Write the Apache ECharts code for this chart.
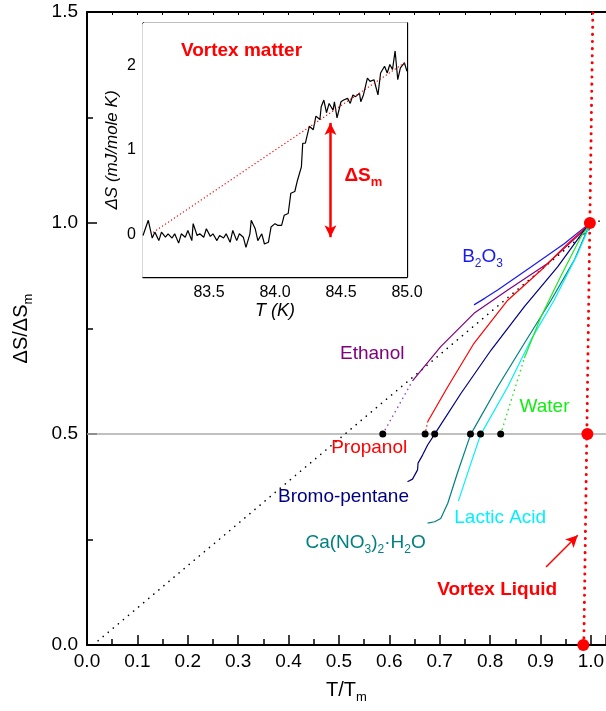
<!DOCTYPE html>
<html><head><meta charset="utf-8">
<script src="https://cdn.jsdelivr.net/npm/echarts@6/dist/echarts.min.js"></script>
<style>html,body{margin:0;padding:0;background:#fff}#c{width:606px;height:711px}</style>
</head><body><div id="c"></div>
<script>
const FONT = 'Liberation Sans';

// ---------- main panel data (T/Tm, dS/dSm) ----------
const xTickValues = [0, 0.1, 0.2, 0.3, 0.4, 0.5, 0.6, 0.7, 0.8, 0.9, 1.0];
const yTickValues = [0, 0.5, 1.0, 1.5];
const halfLine = [[0, 0.5], [1.03, 0.5]];
const diagonal = [[0.012, 0], [1.025, 1.013]];
const vortexLine = [[0.986, 0], [1.004, 1.5]];
const vortexPoints = [[0.985, 0.0], [0.993, 0.5], [0.998, 1.0]];
const halfPoints = [[0.587, 0.5], [0.671, 0.5], [0.690, 0.5], [0.761, 0.5], [0.781, 0.5], [0.821, 0.5]];

const b2o3 = [[0.768,0.806],[0.790,0.822],[0.815,0.841],[0.881,0.896],[0.947,0.951],[0.993,0.995],[1.0,1.0]];
const ethanol = [[0.646,0.626],[0.702,0.707],[0.768,0.786],[0.835,0.841],[0.914,0.904],[0.980,0.976],[1.0,1.0]];
const ethanolExt = [[0.587,0.5],[0.646,0.626]];
const propanol = [[0.676,0.529],[0.716,0.612],[0.768,0.715],[0.835,0.817],[0.901,0.888],[0.954,0.951],[1.0,1.0]];
const propanolExt = [[0.671,0.5],[0.676,0.529]];
const bromo = [[0.636,0.387],[0.646,0.393],[0.656,0.415],[0.657,0.431],[0.666,0.450],[0.676,0.474],[0.689,0.498],[0.742,0.596],[0.802,0.699],[0.868,0.802],[0.934,0.896],[0.987,0.983],[1.0,1.0]];
const canitrate = [[0.676,0.289],[0.690,0.292],[0.702,0.300],[0.716,0.336],[0.735,0.407],[0.761,0.498],[0.815,0.612],[0.868,0.715],[0.921,0.817],[0.967,0.912],[0.990,0.976],[1.0,1.0]];
const lactic = [[0.737,0.341],[0.762,0.431],[0.781,0.498],[0.835,0.612],[0.881,0.723],[0.927,0.817],[0.974,0.928],[1.0,1.0]];
const water = [[0.868,0.680],[0.901,0.778],[0.940,0.873],[0.980,0.967],[1.0,1.0]];
const waterExt = [[0.821,0.5],[0.868,0.680]];
const arrowMain = [[0.911,0.185],[0.974,0.26]];

// annotation texts (anchored at data coordinates)
const labelTexts = ['B{s|2}O{s|3}','Ethanol','Water','Propanol','Bromo-pentane','Lactic Acid','Ca(NO{s|3}){s|2}·H{s|2}O'];
const labelAt = [[0.786,0.919],[0.567,0.690],[0.909,0.564],[0.561,0.467],[0.510,0.351],[0.821,0.301],[0.554,0.242]];
const labelColors = ['#1a1aee','#800080','#11ee11','#ff0000','#000080','#00f0ff','#008080'];

// ---------- inset data (T in K, dS in mJ/mole K) ----------
const insetT = [83.00,83.04,83.07,83.09,83.12,83.14,83.17,83.19,83.22,83.24,83.27,83.29,83.32,83.34,83.37,83.38,83.41,83.43,83.46,83.48,83.51,83.53,83.56,83.58,83.61,83.63,83.66,83.68,83.71,83.73,83.76,83.78,83.81,83.82,83.85,83.87,83.90,83.92,83.95,83.97,84.00,84.02,84.05,84.07,84.10,84.12,84.15,84.17,84.20,84.21,84.23,84.26,84.29,84.31,84.34,84.35,84.37,84.39,84.41,84.44,84.45,84.47,84.50,84.52,84.55,84.57,84.59,84.61,84.64,84.65,84.67,84.70,84.72,84.75,84.78,84.80,84.83,84.85,84.87,84.89,84.91,84.93,84.95,84.98,85.00];
const insetS = [-0.01,0.17,-0.04,0.03,-0.07,0.03,-0.03,0.01,-0.04,0.01,-0.10,0.01,-0.03,0.05,-0.07,0.13,-0.01,0.01,-0.03,0.07,-0.02,0.01,-0.07,-0.01,-0.04,0.01,-0.09,0.05,-0.07,0.01,-0.03,-0.15,0.01,0.17,0.07,-0.07,0.01,-0.11,-0.09,0.09,0.13,0.11,0.11,0.23,0.25,0.49,0.51,0.64,0.80,1.08,1.08,1.28,1.24,1.40,1.36,1.51,1.59,1.44,1.55,1.47,1.57,1.38,1.57,1.59,1.61,1.55,1.65,1.63,1.67,1.57,1.65,1.85,1.81,1.83,1.65,1.91,1.99,1.91,2.01,1.95,2.17,1.83,1.97,2.03,1.93];
const insetBaseline = [[83.08,0.03],[85.0,2.05]];
const insetArrow = [[84.42,1.32],[84.42,-0.03]];
const insetTexts = ['Vortex matter','ΔS{s|m}'];
const insetTextAt = [[83.75,2.17],[84.53,0.684]];

// ---------- build option ----------
const subRich = (size, pad, extra) => ({ s: Object.assign({ fontSize: size, padding: [pad,0,0,0], fontFamily: FONT }, extra || {}) });
const isMult = (v, step) => Math.abs(v / step - Math.round(v / step)) < 1e-6;

function lineSeries(data, color, width, dash, xi, yi) {
  return { type: 'line', data, xAxisIndex: xi || 0, yAxisIndex: yi || 0, symbol: 'none', showSymbol: false,
    silent: true, clip: false,
    lineStyle: { color, width, type: dash || 'solid', cap: dash ? 'round' : 'butt', opacity: 1 } };
}
const hidden = { color: 'rgba(0,0,0,0)', opacity: 1 };

const series = [];
series.push(lineSeries(halfLine, '#ababab', 1.5));
series.push(lineSeries(diagonal, '#000', 1.6, [0.1, 6.5]));
series.push(lineSeries(vortexLine, '#ff0000', 3, [0.1, 7]));
series.push(lineSeries(b2o3, '#1a1aee', 1.2));
series.push(lineSeries(ethanol, '#800080', 1.2));
series.push(lineSeries(ethanolExt, '#a040c0', 1.6, [0.1, 5]));
series.push(lineSeries(propanol, '#ff0000', 1.2));
series.push(lineSeries(propanolExt, '#ff4040', 1.6, [0.1, 4]));
series.push(lineSeries(bromo, '#000080', 1.2));
series.push(lineSeries(canitrate, '#008080', 1.2));
series.push(lineSeries(lactic, '#00f0ff', 1.2));
series.push(lineSeries(water, '#22e622', 1.2));
series.push(lineSeries(waterExt, '#22e622', 1.6, [0.1, 5]));
series.push({ type: 'scatter', data: halfPoints, symbolSize: 7, itemStyle: { color: '#000', opacity: 1 }, clip: false, silent: true, z: 5 });
series.push({ type: 'scatter', data: vortexPoints, symbolSize: 12, itemStyle: { color: '#ff0000', opacity: 1 }, clip: false, silent: true, z: 6 });
series.push({ type: 'line', data: [], symbol: 'none', silent: true,
  markLine: { silent: true, z: 20, symbol: ['none', 'arrow'], symbolSize: [9, 12], label: { show: false },
    lineStyle: { color: '#ff0000', width: 1.5, type: 'solid' },
    data: [[{ coord: arrowMain[0] }, { coord: arrowMain[1] }]] } });
series.push({ type: 'scatter', symbolSize: 1, itemStyle: hidden, silent: true, clip: false, z: 7,
  data: labelAt.map((p, i) => ({ value: p, label: { show: true, opacity: 1, position: [0, 0], align: 'center', verticalAlign: 'middle',
    formatter: labelTexts[i], color: labelColors[i], fontSize: 19, fontFamily: FONT,
    rich: { s: { fontSize: 12, padding: [15, 0, 0, 0], color: labelColors[i], fontFamily: FONT } } } })) });
series.push({ type: 'scatter', symbolSize: 1, itemStyle: hidden, silent: true, clip: false, z: 7,
  data: [{ value: [0.815, 0.130], label: { show: true, opacity: 1, position: [0, 0], align: 'center', verticalAlign: 'middle',
    formatter: 'Vortex Liquid', color: '#ff0000', fontSize: 19, fontWeight: 'bold', fontFamily: FONT } }] });

// inset series
series.push(Object.assign(lineSeries(insetT.map((t, i) => [t, insetS[i]]), '#000', 1.2, null, 2, 1), { z: 10 }));
series.push(Object.assign(lineSeries(insetBaseline, '#ff0000', 1.3, [0.1, 3.5], 2, 1), { z: 11 }));
series.push({ type: 'line', data: [], xAxisIndex: 2, yAxisIndex: 1, symbol: 'none', silent: true, z: 12,
  markLine: { silent: true, z: 20, symbol: ['arrow', 'arrow'], symbolSize: [9, 12], label: { show: false },
    lineStyle: { color: '#ff0000', width: 2.5, type: 'solid' },
    data: [[{ coord: insetArrow[0] }, { coord: insetArrow[1] }]] } });
series.push({ type: 'scatter', xAxisIndex: 2, yAxisIndex: 1, symbolSize: 1, itemStyle: hidden, silent: true, clip: false, z: 12,
  data: insetTextAt.map((p, i) => ({ value: p, label: { show: true, opacity: 1, position: [0, 0], align: i === 0 ? 'center' : 'left', verticalAlign: 'middle',
    formatter: insetTexts[i], color: '#ff0000', fontSize: 19, fontWeight: 'bold', fontFamily: FONT,
    rich: { s: { fontSize: 13, fontWeight: 'bold', padding: [12, 0, 0, 0], color: '#ff0000', fontFamily: FONT } } } })) });

const black = '#000';
const option = {
  animation: false,
  backgroundColor: '#fff',
  textStyle: { fontFamily: FONT },
  grid: [
    { left: 87, top: 12, width: 519, height: 633, containLabel: false, outerBoundsMode: 'none' },
    { left: 143, top: 23, width: 264, height: 254, show: true, backgroundColor: '#fff', borderWidth: 0, z: 9, containLabel: false, outerBoundsMode: 'none' }
  ],
  xAxis: [
    { type: 'value', gridIndex: 0, min: 0, max: 1.03, interval: 0.1, position: 'bottom',
      axisLine: { show: true, onZero: false, lineStyle: { color: black, width: 2 } },
      axisTick: { show: true, inside: true, length: 10, lineStyle: { color: black, width: 1.5 } },
      minorTick: { show: true, splitNumber: 2, length: 6, lineStyle: { color: black, width: 1.5 } },
      splitLine: { show: false }, minorSplitLine: { show: false },
      axisLabel: { show: true, margin: 7, fontSize: 19, color: black, fontFamily: FONT, showMaxLabel: false,
        formatter: v => (isMult(v, 0.1) && xTickValues.some(t => Math.abs(t - v) < 1e-6)) ? v.toFixed(1) : '' },
      name: 'T/T{s|m}', nameLocation: 'middle', nameGap: 32,
      nameTextStyle: { fontSize: 20, color: black, fontFamily: FONT, rich: subRich(13, 14, { color: black }) } },
    { type: 'value', gridIndex: 0, min: 0, max: 1.03, interval: 0.05, position: 'top',
      axisLine: { show: true, onZero: false, lineStyle: { color: black, width: 2 } },
      axisTick: { show: true, inside: true, length: 3, lineStyle: { color: black, width: 1 } },
      axisLabel: { show: false }, splitLine: { show: false } },
    { type: 'value', gridIndex: 1, min: 83, max: 85, interval: 0.25, position: 'bottom',
      axisLine: { show: true, onZero: false, lineStyle: { color: black, width: 1.3 } },
      axisTick: { show: true, inside: true, length: 5, lineStyle: { color: black, width: 1 } },
      splitLine: { show: false },
      axisLabel: { show: true, margin: 8, fontSize: 16, color: black, fontFamily: FONT, showMinLabel: false,
        formatter: v => (isMult(v, 0.5) && v > 83.01) ? v.toFixed(1) : '' },
      name: 'T (K)', nameLocation: 'middle', nameGap: 25,
      nameTextStyle: { fontSize: 18, fontStyle: 'italic', color: black, fontFamily: FONT } },
    { type: 'value', gridIndex: 1, min: 83, max: 85, interval: 0.25, position: 'top',
      axisLine: { show: true, onZero: false, lineStyle: { color: black, width: 1.3 } },
      axisTick: { show: true, inside: true, length: 5, lineStyle: { color: black, width: 1 } },
      axisLabel: { show: false }, splitLine: { show: false } }
  ],
  yAxis: [
    { type: 'value', gridIndex: 0, min: 0, max: 1.5, interval: 0.5, position: 'left',
      axisLine: { show: true, onZero: false, lineStyle: { color: black, width: 2 } },
      axisTick: { show: true, inside: true, length: 10, lineStyle: { color: black, width: 1.5 } },
      minorTick: { show: true, splitNumber: 2, length: 6, lineStyle: { color: black, width: 1.5 } },
      splitLine: { show: false }, minorSplitLine: { show: false },
      axisLabel: { show: true, margin: 9, fontSize: 19, color: black, fontFamily: FONT,
        formatter: v => yTickValues.some(t => Math.abs(t - v) < 1e-6) ? v.toFixed(1) : '' },
      name: 'ΔS/ΔS{s|m}', nameLocation: 'middle', nameGap: 52, nameRotate: 90,
      nameTextStyle: { fontSize: 20, color: black, fontFamily: FONT, rich: subRich(13, 14, { color: black }) } },
    { type: 'value', gridIndex: 1, min: -0.5, max: 2.5, interval: 0.5, position: 'left',
      axisLine: { show: true, onZero: false, lineStyle: { color: black, width: 1.3 } },
      axisTick: { show: true, inside: true, length: 5, lineStyle: { color: black, width: 1 } },
      splitLine: { show: false },
      axisLabel: { show: true, margin: 7, fontSize: 16, color: black, fontFamily: FONT,
        formatter: v => (isMult(v, 1) && v >= 0) ? String(Math.round(v)) : '' },
      name: 'ΔS (mJ/mole K)', nameLocation: 'middle', nameGap: 22, nameRotate: 90,
      nameTextStyle: { fontSize: 17, fontStyle: 'italic', color: black, fontFamily: FONT } },
    { type: 'value', gridIndex: 1, min: -0.5, max: 2.5, interval: 0.5, position: 'right',
      axisLine: { show: true, onZero: false, lineStyle: { color: black, width: 1.3 } },
      axisTick: { show: true, inside: true, length: 5, lineStyle: { color: black, width: 1 } },
      axisLabel: { show: false }, splitLine: { show: false } }
  ],
  series
};
const chart = echarts.init(document.getElementById('c'), null, { renderer: 'canvas' });
chart.setOption(option);
</script>
</body></html>
